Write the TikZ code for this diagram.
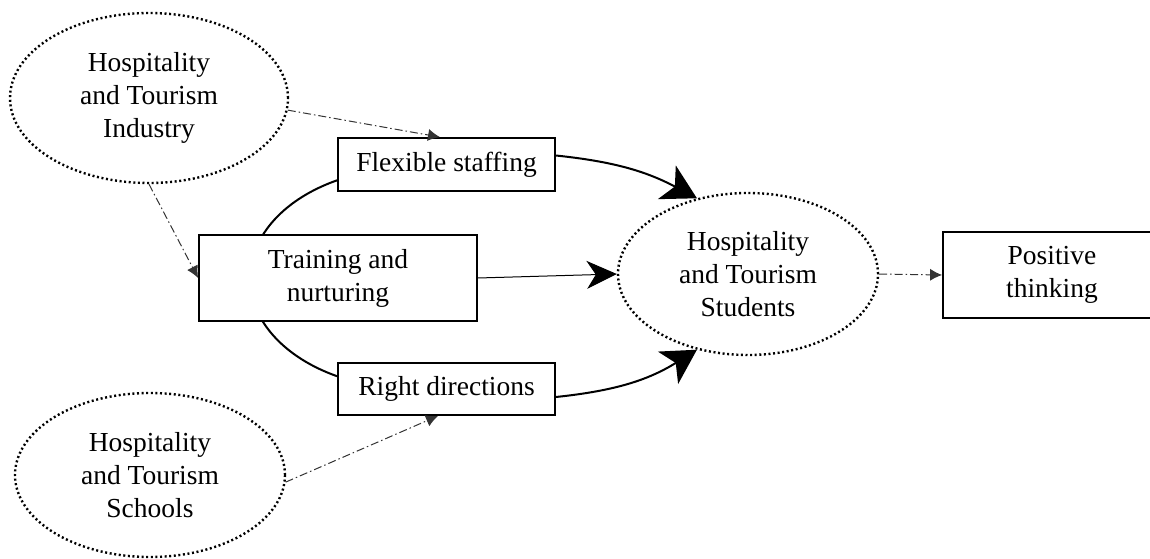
\documentclass[tikz,border=0pt]{standalone}
\usepackage{fontspec}
\setmainfont{Liberation Serif}
\usetikzlibrary{arrows.meta,shapes.geometric}
\begin{document}
\begin{tikzpicture}[x=1pt,y=1pt,
  txt/.style={font=\fontsize{27.5}{33}\selectfont, align=center, inner sep=0pt},
  dotell/.style={txt, ellipse, draw, line width=2.4pt, dash pattern=on 2pt off 2.6pt},
  rbox/.style={txt, rectangle, draw, line width=1.8pt, fill=white},
  dd/.style={draw=black!80, line width=1pt, dash pattern=on 8pt off 3pt on 1.5pt off 3pt,
     -{Latex[length=12pt,width=12pt]}},
  big/.style={line width=2pt, -{Stealth[length=34pt,width=38pt,inset=9pt]}}
]
\useasboundingbox (0,0) rectangle (1150,558);
% nodes
\node[dotell, minimum width=278pt, minimum height=170pt] (ind) at (149,460)
  {Hospitality\\and Tourism\\Industry};
\node[dotell, minimum width=270pt, minimum height=164pt] (sch) at (150,83)
  {Hospitality\\and Tourism\\Schools};
\node[dotell, minimum width=260pt, minimum height=162pt] (st) at (748,284)
  {Hospitality\\and Tourism\\Students};
% left arc behind the training box
\coordinate (arcstart) at (338,378);
\draw[line width=2pt] (arcstart) arc[start angle=116.7, end angle=243.3, x radius=160, y radius=110];
\node[rbox, minimum width=217pt, minimum height=53pt] (flex) at (446.5,393.5) {Flexible staffing};
\node[rbox, minimum width=278pt, minimum height=86pt] (train) at (338,280) {Training and\\nurturing};
\node[rbox, minimum width=217pt, minimum height=52pt] (rd) at (446.5,169) {Right directions};
\node[rbox, minimum width=218pt, minimum height=86pt] (pos) at (1052,283) {Positive\\thinking};
% big arrows
\draw[big] ([yshift=9pt]flex.east) to[out=-6, in=152] (st.124);
\draw[big] ([yshift=-8pt]rd.east) to[out=6, in=-148] (st.236);
\draw[line width=1pt, -{Stealth[length=30pt,width=28pt,inset=9pt]}] (train.east) -- (st.west);
% dash-dot arrows
\draw[dd] (ind.-5) -- ([xshift=-6.5pt]flex.north);
\draw[dd] (ind.south) -- (train.west);
\draw[dd] (sch.-3) -- ([xshift=-8.5pt]rd.south);
\draw[dd] (st.east) -- (pos.west);
\end{tikzpicture}
\end{document}
